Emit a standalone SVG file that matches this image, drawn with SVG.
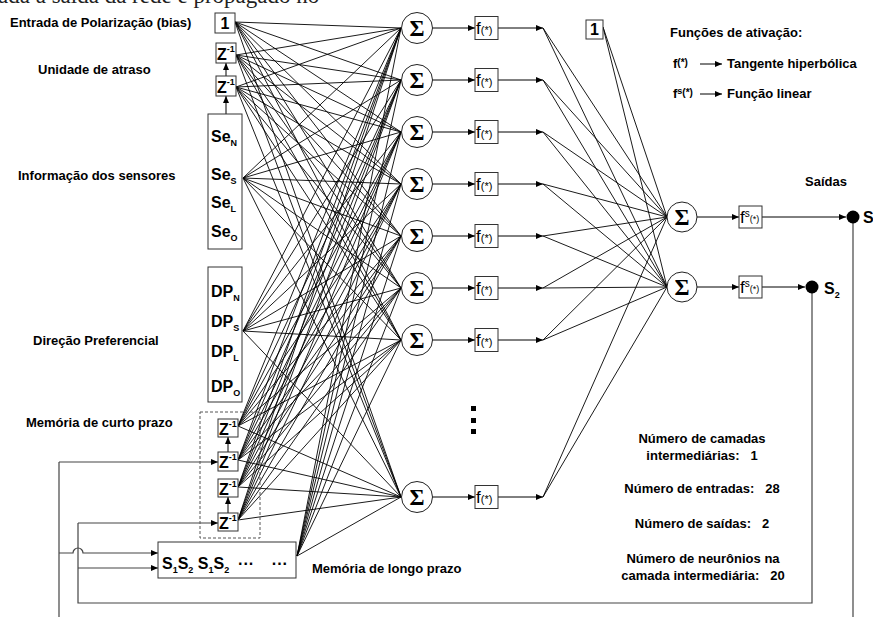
<svg xmlns="http://www.w3.org/2000/svg" width="873" height="617" viewBox="0 0 873 617">
<style>
text{white-space:pre}
.lb{font-family:"Liberation Sans",Arial,sans-serif;font-weight:bold;font-size:13px;fill:#000}
.bx{fill:#fff;stroke:#333;stroke-width:1}
.sg{font-family:"Liberation Serif","Times New Roman",serif;font-weight:bold;font-size:23px;text-anchor:middle}
.neu{fill:#fff;stroke:#222;stroke-width:1}
.cn{fill:none;stroke:#000;stroke-width:0.9}
.fb{fill:none;stroke:#444;stroke-width:1.2}
.ar{fill:none;stroke:#000;stroke-width:1;marker-end:url(#ah)}
.fbar{fill:none;stroke:#444;stroke-width:1.2;marker-end:url(#ah)}
.z{font-family:"Liberation Sans",Arial,sans-serif;font-weight:bold;font-size:16px}
.zs{font-size:9px}
.f{font-family:"Liberation Sans",Arial,sans-serif;font-size:17px}
.fs{font-size:11px}
</style>
<defs>
<marker id="ah" markerUnits="userSpaceOnUse" markerWidth="7" markerHeight="6" viewBox="0 0 7 6" refX="7" refY="3" orient="auto"><path d="M0,0L7,3L0,6z" fill="#000"/></marker>
</defs>
<rect width="873" height="617" fill="#fff"/>
<text x="-2" y="3" font-family="'Liberation Serif','Times New Roman',serif" font-size="23" fill="#222">ada a saída da rede é propagado no</text>

<g id="labels">
<text class="lb" x="10" y="27">Entrada de Polarização (bias)</text>
<text class="lb" x="38" y="74">Unidade de atraso</text>
<text class="lb" x="18" y="180">Informação dos sensores</text>
<text class="lb" x="33" y="345">Direção Preferencial</text>
<text class="lb" x="26" y="427">Memória de curto prazo</text>
<text class="lb" x="312" y="573">Memória de longo prazo</text>
<text class="lb" x="805" y="186">Saídas</text>
</g>

<g id="connectors">
<path class="cn" d="M235 22L401 28M235 22L401 80M235 22L401 132M235 22L401 184M235 22L401 236M235 22L401 288M235 22L401 340M235 22L401 497"/>
<path class="cn" d="M236 55L401 28M236 55L401 80M236 55L401 132M236 55L401 184M236 55L401 236M236 55L401 288M236 55L401 340M236 55L401 497"/>
<path class="cn" d="M236 87L401 28M236 87L401 80M236 87L401 132M236 87L401 184M236 87L401 236M236 87L401 288M236 87L401 340M236 87L401 497"/>
<path class="cn" d="M243 178L401 28M243 178L401 80M243 178L401 132M243 178L401 184M243 178L401 236M243 178L401 288M243 178L401 340M243 178L401 497"/>
<path class="cn" d="M243 331L401 28M243 331L401 80M243 331L401 132M243 331L401 184M243 331L401 236M243 331L401 288M243 331L401 340M243 331L401 497"/>
<path class="cn" d="M238 426L401 28M238 426L401 80M238 426L401 132M238 426L401 184M238 426L401 236M238 426L401 288M238 426L401 340M238 426L401 497"/>
<path class="cn" d="M238 460L401 28M238 460L401 80M238 460L401 132M238 460L401 184M238 460L401 236M238 460L401 288M238 460L401 340M238 460L401 497"/>
<path class="cn" d="M238 487L401 28M238 487L401 80M238 487L401 132M238 487L401 184M238 487L401 236M238 487L401 288M238 487L401 340M238 487L401 497"/>
<path class="cn" d="M238 520L401 28M238 520L401 80M238 520L401 132M238 520L401 184M238 520L401 236M238 520L401 288M238 520L401 340M238 520L401 497"/>
<path class="cn" d="M297 556L401 28M297 556L401 80M297 556L401 132M297 556L401 184M297 556L401 236M297 556L401 288M297 556L401 340M297 556L401 497"/>

<path class="ar" d="M432 28H475"/><path class="ar" d="M432 80H475"/><path class="ar" d="M432 132H475"/><path class="ar" d="M432 184H475"/>
<path class="ar" d="M432 236H475"/><path class="ar" d="M432 288H475"/><path class="ar" d="M432 340H475"/><path class="ar" d="M432 497H475"/>
<path class="ar" d="M498 28H543"/><path class="ar" d="M498 80H543"/><path class="ar" d="M498 132H543"/><path class="ar" d="M498 184H543"/>
<path class="ar" d="M498 236H543"/><path class="ar" d="M498 288H543"/><path class="ar" d="M498 340H543"/><path class="ar" d="M498 497H543"/>

<path class="cn" d="M543 28L667 217M543 28L667 287M543 80L667 217M543 80L667 287M543 132L667 217M543 132L667 287M543 184L667 217M543 184L667 287M543 236L667 217M543 236L667 287M543 288L667 217M543 288L667 287M543 340L667 217M543 340L667 287M543 497L667 217M543 497L667 287M603 27L667 217M603 27L667 287"/>

<path class="ar" d="M697 217H739"/><path class="ar" d="M697 287H739"/>
<path class="ar" d="M762 217H846"/><path class="ar" d="M762 287H805"/>

<path class="ar" d="M226 114V96"/><path class="ar" d="M226 76V63"/>
<path class="ar" d="M228 452V437"/><path class="ar" d="M228 513V497"/>

<path class="fb" d="M853 217V620"/>
<path class="fb" d="M812 287V603H78V523"/>
<path class="fbar" d="M78 523H218"/>
<path class="fbar" d="M78 568H158"/>
<path class="fb" d="M59 620V462"/>
<path class="fbar" d="M59 462H218"/>
<path class="fbar" d="M59 553H73A5 5 0 0 1 83 553H158"/>
</g>

<g id="bias-in"><rect class="bx" x="215" y="13" width="20" height="20"/><text class="z" x="225" y="29" text-anchor="middle">1</text></g>
<g id="delay1"><rect class="bx" x="216" y="43" width="20" height="20"/><text class="z" x="217" y="60" font-size="17">Z<tspan class="zs" dy="-8">-1</tspan></text></g>
<g id="delay2"><rect class="bx" x="216" y="76" width="20" height="20"/><text class="z" x="217" y="93" font-size="17">Z<tspan class="zs" dy="-8">-1</tspan></text></g>

<g id="sensores"><rect class="bx" x="208" y="114" width="34" height="135"/>
<text class="z" x="211" y="142" font-size="14">Se<tspan class="zs" dy="4">N</tspan></text>
<text class="z" x="211" y="180" font-size="14">Se<tspan class="zs" dy="4">S</tspan></text>
<text class="z" x="211" y="208" font-size="14">Se<tspan class="zs" dy="4">L</tspan></text>
<text class="z" x="211" y="237" font-size="14">Se<tspan class="zs" dy="4">O</tspan></text>
</g>

<g id="direcao"><rect class="bx" x="208" y="267" width="34" height="135"/>
<text class="z" x="211" y="297" font-size="14">DP<tspan class="zs" dy="4">N</tspan></text>
<text class="z" x="211" y="327" font-size="14">DP<tspan class="zs" dy="4">S</tspan></text>
<text class="z" x="211" y="357" font-size="14">DP<tspan class="zs" dy="4">L</tspan></text>
<text class="z" x="211" y="392" font-size="14">DP<tspan class="zs" dy="4">O</tspan></text>
</g>

<g id="memoria-curto">
<rect x="200" y="412" width="60" height="126" fill="none" stroke="#555" stroke-width="1" stroke-dasharray="3,2"/>
<rect class="bx" x="218" y="419" width="20" height="18"/><text class="z" x="219" y="435" font-size="17">Z<tspan class="zs" dy="-8">-1</tspan></text>
<rect class="bx" x="218" y="452" width="20" height="19"/><text class="z" x="219" y="468" font-size="17">Z<tspan class="zs" dy="-8">-1</tspan></text>
<rect class="bx" x="218" y="479" width="20" height="18"/><text class="z" x="219" y="495" font-size="17">Z<tspan class="zs" dy="-8">-1</tspan></text>
<rect class="bx" x="218" y="513" width="20" height="18"/><text class="z" x="219" y="529" font-size="17">Z<tspan class="zs" dy="-8">-1</tspan></text>
</g>

<g id="memoria-longo"><rect class="bx" x="158" y="542" width="138" height="36"/>
<text class="z" x="162" y="569">S<tspan class="zs" font-size="10" dy="4">1</tspan><tspan dy="-4">S</tspan><tspan class="zs" font-size="10" dy="4">2</tspan><tspan dy="-4"> S</tspan><tspan class="zs" font-size="10" dy="4">1</tspan><tspan dy="-4">S</tspan><tspan class="zs" font-size="10" dy="4">2</tspan><tspan dy="-4">  ···    ···</tspan></text>
</g>

<g id="hidden">
<circle class="neu" cx="417" cy="28" r="15.5"/><text class="sg" x="417" y="36">Σ</text>
<circle class="neu" cx="417" cy="80" r="15.5"/><text class="sg" x="417" y="88">Σ</text>
<circle class="neu" cx="417" cy="132" r="15.5"/><text class="sg" x="417" y="140">Σ</text>
<circle class="neu" cx="417" cy="184" r="15.5"/><text class="sg" x="417" y="192">Σ</text>
<circle class="neu" cx="417" cy="236" r="15.5"/><text class="sg" x="417" y="244">Σ</text>
<circle class="neu" cx="417" cy="288" r="15.5"/><text class="sg" x="417" y="296">Σ</text>
<circle class="neu" cx="417" cy="340" r="15.5"/><text class="sg" x="417" y="348">Σ</text>
<circle class="neu" cx="417" cy="497" r="15.5"/><text class="sg" x="417" y="505">Σ</text>
</g>

<g id="hidden-f">
<rect class="bx" x="475" y="16.5" width="23" height="23"/><text class="f" x="476" y="34">f<tspan class="fs">(*)</tspan></text>
<rect class="bx" x="475" y="68.5" width="23" height="23"/><text class="f" x="476" y="86">f<tspan class="fs">(*)</tspan></text>
<rect class="bx" x="475" y="120.5" width="23" height="23"/><text class="f" x="476" y="138">f<tspan class="fs">(*)</tspan></text>
<rect class="bx" x="475" y="172.5" width="23" height="23"/><text class="f" x="476" y="190">f<tspan class="fs">(*)</tspan></text>
<rect class="bx" x="475" y="224.5" width="23" height="23"/><text class="f" x="476" y="242">f<tspan class="fs">(*)</tspan></text>
<rect class="bx" x="475" y="276.5" width="23" height="23"/><text class="f" x="476" y="294">f<tspan class="fs">(*)</tspan></text>
<rect class="bx" x="475" y="328.5" width="23" height="23"/><text class="f" x="476" y="346">f<tspan class="fs">(*)</tspan></text>
<rect class="bx" x="475" y="485.5" width="23" height="23"/><text class="f" x="476" y="503">f<tspan class="fs">(*)</tspan></text>
</g>

<g id="ellipsis"><rect x="471" y="406" width="5" height="5"/><rect x="471" y="418" width="5" height="5"/><rect x="471" y="429" width="5" height="5"/></g>

<g id="bias-out"><rect class="bx" x="586" y="20" width="17" height="19"/><text class="z" x="594.5" y="35" text-anchor="middle" font-size="14">1</text></g>

<g id="output">
<circle class="neu" cx="682" cy="217" r="15"/><text class="sg" x="682" y="225">Σ</text>
<circle class="neu" cx="682" cy="287" r="15"/><text class="sg" x="682" y="295">Σ</text>
<rect class="bx" x="739" y="206" width="23" height="22"/><text class="f" x="740" y="223">f<tspan font-size="10" dy="-6">s</tspan><tspan font-size="9" dy="5">(*)</tspan></text>
<rect class="bx" x="739" y="276" width="23" height="22"/><text class="f" x="740" y="293">f<tspan font-size="10" dy="-6">s</tspan><tspan font-size="9" dy="5">(*)</tspan></text>
<circle cx="853" cy="217" r="6.5"/><text class="z" x="863" y="223" font-size="15">S<tspan class="zs" font-size="10" dy="4">1</tspan></text>
<circle cx="812" cy="287" r="6.5"/><text class="z" x="824" y="294" font-size="15">S<tspan class="zs" font-size="10" dy="4">2</tspan></text>
</g>

<g id="legenda">
<text class="lb" x="670" y="37">Funções de ativação:</text>
<text class="lb" x="673" y="68" font-size="15">f<tspan font-size="10" dy="-2">(*)</tspan></text>
<path class="ar" d="M700 64H722"/>
<text class="lb" x="727" y="68">Tangente hiperbólica</text>
<text class="lb" x="673" y="98" font-size="15">f<tspan font-size="9" dy="-4">s</tspan><tspan font-size="10" dy="2">(*)</tspan></text>
<path class="ar" d="M700 94H722"/>
<text class="lb" x="727" y="98">Função linear</text>
</g>

<g id="estatisticas" text-anchor="middle">
<text class="lb" x="702" y="443">Número de camadas</text>
<text class="lb" x="702" y="460">intermediárias:   1</text>
<text class="lb" x="702" y="493">Número de entradas:   28</text>
<text class="lb" x="702" y="528">Número de saídas:   2</text>
<text class="lb" x="703" y="563">Número de neurônios na</text>
<text class="lb" x="703" y="580">camada intermediária:   20</text>
</g>
</svg>
